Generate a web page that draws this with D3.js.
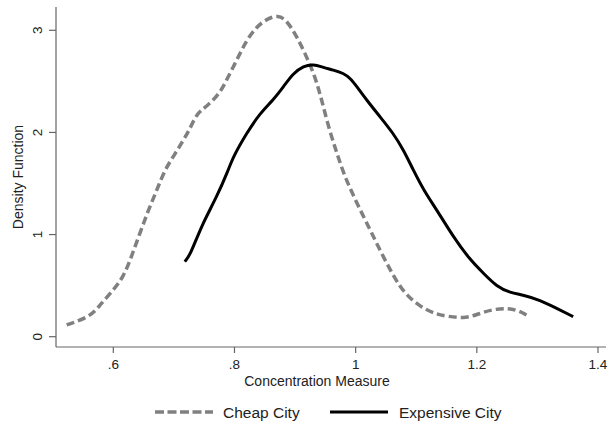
<!DOCTYPE html>
<html><head><meta charset="utf-8">
<script src="https://cdn.jsdelivr.net/npm/d3@7/dist/d3.min.js"></script>
<style>body{margin:0;background:#fff}svg{display:block;font-family:"Liberation Sans",Arial,sans-serif}</style>
</head><body><svg id="c" width="609" height="429"></svg>
<script>
const cheapX = [0.523,0.562,0.578,0.600,0.617,0.630,0.644,0.658,0.672,0.685,0.699,0.716,0.727,0.738,0.754,0.776,0.787,0.804,0.820,0.837,0.853,0.872,0.886,0.903,0.919,0.933,0.944,0.955,0.969,0.982,1.002,1.024,1.040,1.057,1.073,1.087,1.107,1.128,1.153,1.183,1.205,1.227,1.249,1.266,1.282];
const cheapY = [0.115,0.196,0.310,0.457,0.588,0.784,1.016,1.241,1.437,1.633,1.763,1.927,2.041,2.188,2.253,2.384,2.514,2.710,2.906,3.036,3.110,3.150,3.100,2.938,2.742,2.546,2.318,2.057,1.796,1.567,1.307,1.045,0.849,0.653,0.490,0.392,0.294,0.229,0.196,0.180,0.229,0.268,0.278,0.262,0.213];
const expX = [0.718,0.727,0.746,0.771,0.790,0.798,0.820,0.842,0.864,0.881,0.897,0.914,0.930,0.947,0.963,0.980,0.991,1.002,1.018,1.040,1.062,1.079,1.095,1.112,1.134,1.161,1.189,1.211,1.233,1.255,1.277,1.304,1.332,1.359];
const expY = [0.735,0.800,1.094,1.371,1.633,1.763,1.992,2.188,2.318,2.449,2.580,2.650,2.670,2.635,2.612,2.580,2.531,2.449,2.318,2.155,1.992,1.829,1.633,1.437,1.241,0.979,0.751,0.621,0.490,0.431,0.408,0.359,0.278,0.196];
const xTicks = [0.6,0.8,1.0,1.2,1.4];
const xTickLabels = [".6",".8","1","1.2","1.4"];
const yTicks = [0,1,2,3];
const seriesNames = ["Cheap City","Expensive City"];

const svg = d3.select("#c");
const x = d3.scaleLinear().domain([0.6,1.4]).range([113.3,598]);
const y = d3.scaleLinear().domain([0,3]).range([336.7,30.3]);
const axisCol = "#666";
const txt = "#222";
const g = svg.append("g");
g.append("line").attr("x1",56).attr("x2",56).attr("y1",7).attr("y2",347).attr("stroke",axisCol).attr("stroke-width",1.2);
g.append("line").attr("x1",56).attr("x2",606).attr("y1",347).attr("y2",347).attr("stroke",axisCol).attr("stroke-width",1.2);
yTicks.forEach(t=>{
  g.append("line").attr("x1",49).attr("x2",56).attr("y1",y(t)).attr("y2",y(t)).attr("stroke",axisCol).attr("stroke-width",1.2);
  g.append("text").attr("transform",`translate(42,${y(t)}) rotate(-90)`).attr("text-anchor","middle").attr("font-size",13.5).attr("fill",txt).text(t);
});
xTicks.forEach((t,i)=>{
  g.append("line").attr("x1",x(t)).attr("x2",x(t)).attr("y1",347).attr("y2",353).attr("stroke",axisCol).attr("stroke-width",1.2);
  g.append("text").attr("x",x(t)).attr("y",369).attr("text-anchor","middle").attr("font-size",13.5).attr("fill",txt).text(xTickLabels[i]);
});
g.append("text").attr("x",317).attr("y",386).attr("text-anchor","middle").attr("font-size",14).attr("fill",txt).text("Concentration Measure");
g.append("text").attr("transform","translate(23,177) rotate(-90)").attr("text-anchor","middle").attr("font-size",14).attr("fill",txt).text("Density Function");

const line = d3.line().x(d=>x(d[0])).y(d=>y(d[1])).curve(d3.curveBasis);
const cheap = cheapX.map((v,i)=>[v,cheapY[i]]);
const exp = expX.map((v,i)=>[v,expY[i]]);
svg.append("path").attr("d",line(cheap)).attr("fill","none").attr("stroke","#808080").attr("stroke-width",3.5).attr("stroke-dasharray","8,4");
svg.append("path").attr("d",line(exp)).attr("fill","none").attr("stroke","#000").attr("stroke-width",3);

const lg = svg.append("g");
lg.append("line").attr("x1",155).attr("x2",213).attr("y1",412).attr("y2",412).attr("stroke","#808080").attr("stroke-width",3.5).attr("stroke-dasharray","9,3.5");
lg.append("text").attr("x",223).attr("y",418).attr("font-size",15.5).attr("fill",txt).text(seriesNames[0]);
lg.append("line").attr("x1",330).attr("x2",388).attr("y1",412).attr("y2",412).attr("stroke","#000").attr("stroke-width",3);
lg.append("text").attr("x",399).attr("y",418).attr("font-size",15.5).attr("fill",txt).text(seriesNames[1]);
</script></body></html>
